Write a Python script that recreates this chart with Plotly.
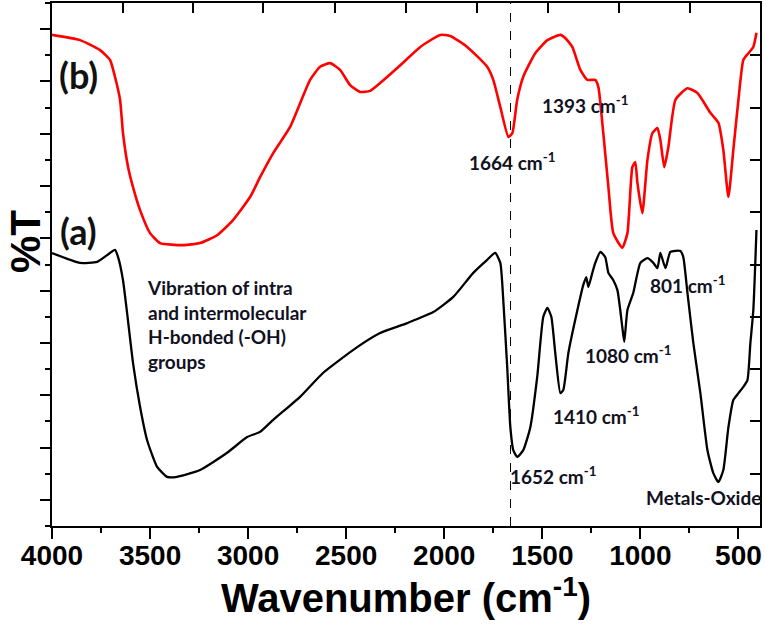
import plotly.graph_objects as go

# ---- data ----
wn_b = [4000, 3857, 3755, 3704, 3679, 3653, 3638, 3612, 3587, 3551, 3500, 3449, 3332, 3245,
        3158, 3077, 2990, 2939, 2872, 2786, 2684, 2633, 2582, 2531, 2480, 2429, 2378, 2327,
        2224, 2122, 2020, 1969, 1883, 1781, 1750, 1714, 1673, 1653, 1628, 1597, 1536, 1474,
        1408, 1383, 1347, 1306, 1270, 1230, 1214, 1189, 1163, 1138, 1092, 1066, 1041, 1026,
        1015, 990, 964, 939, 913, 898, 878, 857, 821, 760, 709, 643, 602, 577, 551, 526,
        500, 475, 449, 424, 408]
t_b = [93.9, 92.9, 91.0, 89.1, 85.9, 81.5, 75.1, 68.6, 64.8, 60.4, 56.0, 54.1, 53.7, 54.1,
       55.6, 58.5, 62.9, 66.7, 71.3, 76.3, 85.3, 87.8, 88.5, 87.2, 84.3, 83.0, 83.2, 84.7,
       88.1, 91.6, 93.9, 93.7, 91.6, 87.8, 85.3, 80.1, 74.4, 75.1, 81.5, 85.9, 90.4, 92.9,
       93.9, 93.3, 91.6, 87.2, 85.3, 85.3, 83.9, 75.1, 64.8, 56.0, 53.2, 56.0, 68.6, 69.6,
       65.6, 59.8, 70.0, 75.1, 76.1, 73.8, 68.6, 72.5, 81.5, 83.7, 82.8, 79.0, 77.1, 71.9,
       62.9, 71.9, 81.5, 89.1, 90.4, 91.6, 94.3]

wn_a = [4000, 3857, 3770, 3719, 3679, 3663, 3638, 3617, 3587, 3551, 3515, 3464, 3413, 3362,
        3245, 3107, 3005, 2939, 2872, 2735, 2617, 2444, 2327, 2189, 2056, 1954, 1852, 1781,
        1740, 1714, 1699, 1679, 1663, 1648, 1628, 1597, 1561, 1526, 1495, 1474, 1454, 1434,
        1408, 1393, 1367, 1321, 1291, 1276, 1265, 1245, 1230, 1204, 1179, 1163, 1138, 1117,
        1092, 1082, 1066, 1036, 1000, 964, 934, 913, 898, 872, 847, 796, 781, 760, 730, 694,
        658, 628, 602, 577, 551, 526, 500, 475, 454, 439, 424, 408]
t_a = [52.2, 50.3, 50.5, 51.8, 52.8, 51.4, 47.0, 40.7, 31.2, 22.8, 16.4, 11.3, 9.4, 9.4,
       10.7, 14.0, 17.0, 18.0, 20.3, 24.7, 29.3, 34.2, 36.9, 38.8, 40.9, 43.8, 48.4, 50.9,
       52.2, 50.3, 43.2, 30.4, 18.9, 14.5, 13.2, 14.5, 18.9, 28.5, 40.0, 41.7, 40.0, 33.1,
       25.4, 26.0, 33.1, 41.3, 46.1, 47.6, 45.7, 48.4, 50.3, 52.4, 51.4, 48.4, 47.0, 45.1,
       38.0, 35.2, 41.3, 44.6, 50.3, 51.2, 50.3, 49.3, 52.2, 49.3, 52.4, 52.6, 51.4, 44.6,
       35.0, 25.4, 14.5, 10.1, 8.4, 10.7, 18.9, 24.1, 25.4, 26.6, 27.9, 35.0, 41.3, 56.6]

ref_line_wn = 1662
x_tick_vals = [4000, 3500, 3000, 2500, 2000, 1500, 1000, 500]
top_tick_vals = [3638, 3281, 2924, 2556, 2194, 1832, 1469, 1107, 745]
right_tick_vals = [10, 20, 30, 40, 50, 60, 70, 80, 90]

peak_labels = ["1664 cm<sup>-1</sup>", "1393 cm<sup>-1</sup>", "801 cm<sup>-1</sup>",
               "1080 cm<sup>-1</sup>", "1410 cm<sup>-1</sup>", "1652 cm<sup>-1</sup>",
               "Metals-Oxide"]
peak_label_wn = [1653, 1281, 760, 1061, 1224, 1444, 679]
peak_label_t = [69.6, 80.5, 46.1, 32.7, 21.2, 9.75, 5.5]

X_RANGE = [4000, 390]
Y_RANGE = [0, 100]

fig = go.Figure()
fig.add_trace(go.Scatter(x=wn_b, y=t_b, mode="lines", line=dict(color="#ff0000", width=2.6, shape="spline", smoothing=0.5),
                         showlegend=False, hoverinfo="skip"))
fig.add_trace(go.Scatter(x=wn_a, y=t_a, mode="lines", line=dict(color="#000000", width=2.3, shape="spline", smoothing=0.5),
                         showlegend=False, hoverinfo="skip"))
# invisible trace to realise the secondary (tick-only) axes
fig.add_trace(go.Scatter(x=[None], y=[None], xaxis="x2", yaxis="y2", showlegend=False, hoverinfo="skip"))

fig.add_shape(type="line", xref="x", yref="paper", x0=ref_line_wn, x1=ref_line_wn, y0=0, y1=1,
              line=dict(color="black", width=1, dash="dash"))

ann_font = dict(family="Lato", size=19, color="#111122", weight="bold")
for txt, xv, yv in zip(peak_labels, peak_label_wn, peak_label_t):
    fig.add_annotation(x=xv, y=yv, text=txt, showarrow=False, font=ann_font, xanchor="center", yanchor="middle")

fig.add_annotation(x=3525, y=38.6, xanchor="left", yanchor="middle", align="left", showarrow=False,
                   text="Vibration of intra<br>and intermolecular<br>H-bonded (-OH)<br>groups", font=ann_font)
fig.add_annotation(x=3867, y=86.2, text="(b)", showarrow=False,
                   font=dict(family="Lato", size=36, color="#111111", weight="bold"))
fig.add_annotation(x=3867, y=56.4, text="(a)", showarrow=False,
                   font=dict(family="Lato", size=36, color="#111111", weight="bold"))
# y-axis title, placed slightly above the axis centre as in the reference
fig.add_annotation(xref="paper", yref="paper", x=-0.038, y=0.543, text="%T", textangle=-90,
                   showarrow=False, xanchor="center", yanchor="middle", borderpad=0,
                   font=dict(family="Liberation Sans", size=42, color="black", weight="bold"))

fig.update_layout(
    width=765, height=634,
    margin=dict(l=52, r=5, t=3, b=108, autoexpand=False),
    paper_bgcolor="white", plot_bgcolor="white",
    xaxis=dict(range=X_RANGE, tickvals=x_tick_vals, ticks="outside", ticklen=11, tickwidth=2,
               tickcolor="black", showline=True, linecolor="black", linewidth=2, mirror=True,
               showgrid=False, zeroline=False, automargin=False, ticklabelstandoff=-8,
               minor=dict(dtick=250, tick0=0, ticks="outside", ticklen=5, tickwidth=2, tickcolor="black"),
               tickfont=dict(family="Liberation Sans", size=28, color="black", weight="bold"),
               title=dict(text="Wavenumber (cm<sup>-1</sup>)", standoff=8,
                          font=dict(family="Liberation Sans", size=40, color="black", weight="bold"))),
    yaxis=dict(range=Y_RANGE, tick0=5, dtick=10, ticks="outside", ticklen=10, tickwidth=2,
               tickcolor="black", showticklabels=False, showline=True, linecolor="black",
               linewidth=2, mirror=True, showgrid=False, zeroline=False, automargin=False,
               minor=dict(tick0=0, dtick=10, ticks="outside", ticklen=5, tickwidth=2, tickcolor="black")),
    xaxis2=dict(range=X_RANGE, overlaying="x", side="top", tickvals=top_tick_vals, ticks="inside",
                ticklen=10, tickwidth=2, tickcolor="black", showticklabels=False, showgrid=False,
                zeroline=False, showline=False, automargin=False),
    yaxis2=dict(range=Y_RANGE, overlaying="y", side="right", tickvals=right_tick_vals, ticks="inside",
                ticklen=10, tickwidth=2, tickcolor="black", showticklabels=False, showgrid=False,
                zeroline=False, showline=False, automargin=False),
)

fig.write_html("out.html", config={"displayModeBar": False},
               post_script="document.body.style.margin='0';document.body.style.padding='0';")
